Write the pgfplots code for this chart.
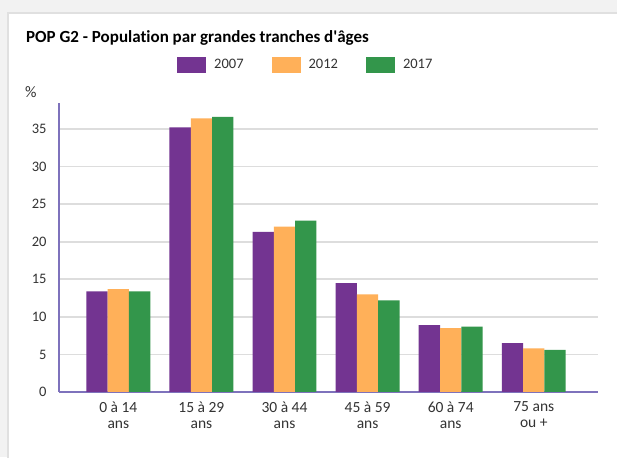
\documentclass[border=0pt]{standalone}
\usepackage{fontspec}
\setmainfont{Carlito}
\newfontfamily\titlefont{Carlito}[Ligatures=NoCommon]
\usepackage{pgfplots}
\pgfplotsset{compat=1.18}

\definecolor{bgcol}{HTML}{F2F2F2}
\definecolor{cardline}{HTML}{E0E0E0}
\definecolor{c2007}{HTML}{733491}
\definecolor{c2012}{HTML}{FFB059}
\definecolor{c2017}{HTML}{33964B}
\definecolor{axcol}{HTML}{7E72BC}
\definecolor{gridcol}{HTML}{DDDDDD}
\definecolor{txt}{HTML}{333333}

\begin{document}
\begin{tikzpicture}[x=1pt,y=1pt]
\clip (0,0) rectangle (617,457);
% page background and white card
\fill[bgcol] (0,0) rectangle (617,457);
\filldraw[fill=white,draw=cardline,line width=1.5pt] (8,-10) rectangle (640,444);
% title and unit
\node[anchor=base west,inner sep=0pt,text=black,font=\titlefont\bfseries\fontsize{17}{20}\selectfont]
  at (26,414.7) {POP G2 - Population par grandes tranches d'âges};
\node[anchor=base west,inner sep=0pt,text=txt,font=\fontsize{16}{18}\selectfont]
  at (25,359) {\%};

\begin{axis}[
    at={(59pt,65pt)}, anchor=south west,
    scale only axis,
    width=539pt, height=289pt,
    ybar=0pt,
    bar width=21.3pt,
    xmin=-0.714, xmax=5.773,
    ymin=0, ymax=38.46,
    xtick={0,1,2,3,4,5},
    xticklabels={0 à 14\\ans,15 à 29\\ans,30 à 44\\ans,45 à 59\\ans,60 à 74\\ans,75 ans\\ou +},
    ytick={0,5,...,35},
    /pgf/number format/assume math mode=true,
    axis x line*=bottom,
    axis y line*=left,
    x axis line style={draw=axcol,line width=2pt,-},
    y axis line style={draw=axcol,line width=1.3pt,-},
    major tick length=0pt,
    ymajorgrids,
    major grid style={draw=gridcol,line width=1.6pt},
    tick label style={text=txt},
    xticklabel style={align=center,font=\fontsize{15.5}{16}\selectfont,yshift=-6pt},
    yticklabel style={font=\fontsize{14.5}{16}\selectfont,xshift=-9pt},
    legend columns=3,
    legend image code/.code={\fill[#1] (0pt,-8.3pt) rectangle (29pt,8.3pt);},
    legend style={at={(0.219,1.1315)},anchor=west,draw=none,fill=none,
        inner sep=0pt,font=\fontsize{14.5}{16}\selectfont,text=txt,
        /tikz/every odd column/.append style={column sep=6pt},
        /tikz/every even column/.append style={column sep=26pt}},
]
\addplot[fill=c2007,draw=none] coordinates {(0,13.4) (1,35.2) (2,21.3) (3,14.5) (4,8.9) (5,6.5)};
\addlegendentry{2007}
\addplot[fill=c2012,draw=none] coordinates {(0,13.7) (1,36.4) (2,22.0) (3,13.0) (4,8.5) (5,5.8)};
\addlegendentry{2012}
\addplot[fill=c2017,draw=none] coordinates {(0,13.4) (1,36.6) (2,22.8) (3,12.2) (4,8.7) (5,5.6)};
\addlegendentry{2017}
\end{axis}
\end{tikzpicture}
\end{document}
